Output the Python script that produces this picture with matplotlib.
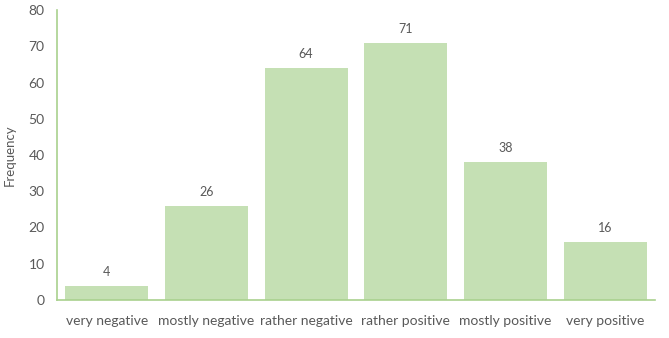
import matplotlib
matplotlib.use("Agg")
import matplotlib.pyplot as plt

categories = ["very negative", "mostly negative", "rather negative",
              "rather positive", "mostly positive", "very positive"]
values = [4, 26, 64, 71, 38, 16]
yticks = [0, 10, 20, 30, 40, 50, 60, 70, 80]

plt.rcParams['font.family'] = ['Lato', 'DejaVu Sans']
txt = '#595959'

fig = plt.figure(figsize=(6.69, 3.38), dpi=100)
ax = fig.add_axes([57/669, 1-300/338, (655-57)/669, 290/338])
x = range(len(categories))
bars = ax.bar(x, values, width=0.83, color='#C5E0B4')
for xi, v in zip(x, values):
    ax.text(xi, v + 2.2, str(v), ha='center', va='bottom', fontsize=9, color=txt)
ax.set_xlim(-0.5, 5.5)
ax.set_ylim(0, 80)
ax.set_yticks(yticks)
ax.set_xticks(list(x))
ax.set_xticklabels(categories, fontsize=10, color=txt)
ax.tick_params(axis='y', labelsize=10, labelcolor=txt, length=0, pad=9)
ax.tick_params(axis='x', length=0, pad=11)
for s in ['top', 'right']:
    ax.spines[s].set_visible(False)
for s in ['left', 'bottom']:
    ax.spines[s].set_color('#A9D18E')
    ax.spines[s].set_linewidth(1.2)
ax.set_ylabel('Frequency', fontsize=9.5, color=txt, labelpad=9)
fig.savefig('out.png', dpi=100)
